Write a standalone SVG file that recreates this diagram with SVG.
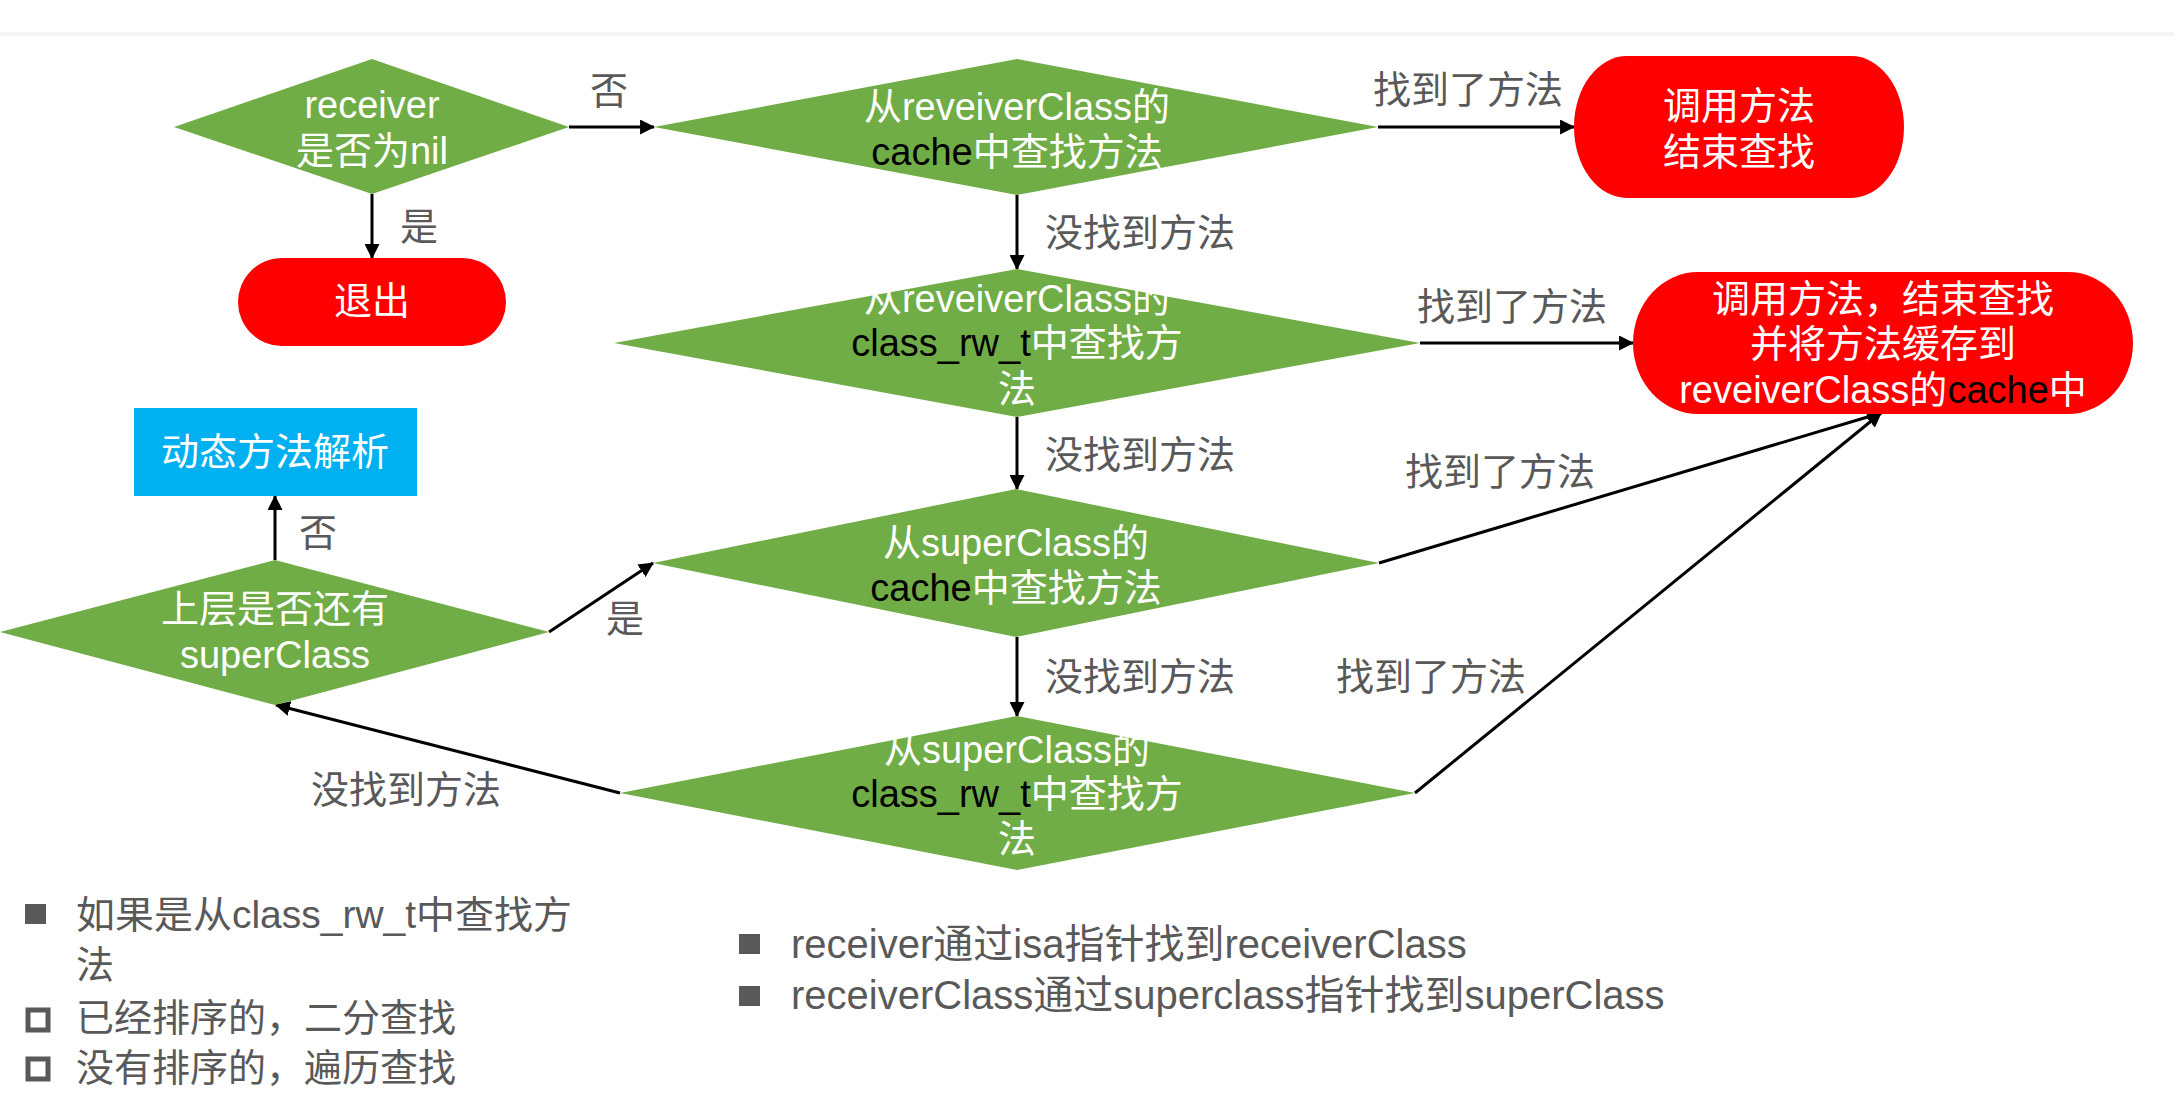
<svg xmlns="http://www.w3.org/2000/svg" width="2174" height="1096" viewBox="0 0 2174 1096">
<style>
.bg{fill:#ffffff}
.d{fill:#70AD47}
.r{fill:#FF0000}
.b{fill:#00B0F0}
.t{font-family:"Liberation Sans","Noto Sans CJK SC",sans-serif;font-size:38px;fill:#ffffff;text-anchor:middle}
.k{fill:#000000}
.l{font-family:"Liberation Sans","Noto Sans CJK SC",sans-serif;font-size:38px;fill:#595959;text-anchor:middle}
.n{font-family:"Liberation Sans","Noto Sans CJK SC",sans-serif;font-size:38px;fill:#595959}
.n2{font-family:"Liberation Sans","Noto Sans CJK SC",sans-serif;font-size:40px;fill:#595959}
.c{stroke:#000000;stroke-width:3;fill:none;marker-end:url(#a)}
</style>
<defs>
<marker id="a" viewBox="0 0 14 14" markerWidth="15" markerHeight="15" refX="13" refY="7" orient="auto" markerUnits="userSpaceOnUse">
<path d="M0,0 L14,7 L0,14 z" fill="#000000"/>
</marker>
</defs>
<rect class="bg" x="0" y="0" width="2174" height="1096"/>
<rect x="0" y="32" width="2174" height="4" fill="#f4f4f4"/>

<g id="connectors">
<line class="c" x1="569" y1="127" x2="654" y2="127"/>
<line class="c" x1="372" y1="194" x2="372" y2="258"/>
<line class="c" x1="1378" y1="127" x2="1574" y2="127"/>
<line class="c" x1="1017" y1="195" x2="1017" y2="269"/>
<line class="c" x1="1420" y1="343" x2="1633" y2="343"/>
<line class="c" x1="1017" y1="417" x2="1017" y2="489"/>
<line class="c" x1="1379" y1="563" x2="1881" y2="413"/>
<line class="c" x1="1017" y1="637" x2="1017" y2="716"/>
<line class="c" x1="1415" y1="793" x2="1881" y2="413"/>
<line class="c" x1="620" y1="793" x2="276" y2="705"/>
<line class="c" x1="549" y1="632" x2="653" y2="563"/>
<line class="c" x1="275" y1="560" x2="275" y2="496"/>
<text class="l" x="609" y="104">否</text>
<text class="l" x="419" y="240">是</text>
<text class="l" x="1468" y="103">找到了方法</text>
<text class="l" x="1140" y="246">没找到方法</text>
<text class="l" x="1512" y="320">找到了方法</text>
<text class="l" x="1140" y="468">没找到方法</text>
<text class="l" x="1500" y="485">找到了方法</text>
<text class="l" x="1140" y="690">没找到方法</text>
<text class="l" x="1431" y="690">找到了方法</text>
<text class="l" x="318" y="546">否</text>
<text class="l" x="625" y="632">是</text>
<text class="l" x="406" y="803">没找到方法</text>
</g>

<g id="receiver-nil">
<polygon class="d" points="372,59 569,127 372,194 174,127"/>
<text class="t" x="372" y="118">receiver</text>
<text class="t" x="372" y="164">是否为nil</text>
</g>

<g id="exit">
<rect class="r" x="238" y="258" width="268" height="88" rx="44" ry="44"/>
<text class="t" x="372" y="314">退出</text>
</g>

<g id="receiver-cache">
<polygon class="d" points="1017,59 1378,127 1017,195 654,127"/>
<text class="t" x="1017" y="120">从reveiverClass的</text>
<text class="t" x="1017" y="165"><tspan class="k">cache</tspan>中查找方法</text>
</g>

<g id="call-end">
<rect class="r" x="1574" y="56" width="330" height="142" rx="53" ry="71"/>
<text class="t" x="1739" y="119">调用方法</text>
<text class="t" x="1739" y="165">结束查找</text>
</g>

<g id="receiver-rw">
<polygon class="d" points="1017,269 1420,343 1017,417 614,343"/>
<text class="t" x="1017" y="312">从reveiverClass的</text>
<text class="t" x="1017" y="356"><tspan class="k">class_rw_t</tspan>中查找方</text>
<text class="t" x="1017" y="402">法</text>
</g>

<g id="call-cache">
<rect class="r" x="1633" y="272" width="500" height="142" rx="65" ry="71"/>
<text class="t" x="1883" y="312">调用方法，结束查找</text>
<text class="t" x="1883" y="357">并将方法缓存到</text>
<text class="t" x="1883" y="403">reveiverClass的<tspan class="k">cache</tspan>中</text>
</g>

<g id="super-cache">
<polygon class="d" points="1016,489 1379,563 1016,637 653,563"/>
<text class="t" x="1016" y="556">从superClass的</text>
<text class="t" x="1016" y="601"><tspan class="k">cache</tspan>中查找方法</text>
</g>

<g id="super-rw">
<polygon class="d" points="1017,716 1415,793 1017,870 620,793"/>
<text class="t" x="1017" y="763">从superClass的</text>
<text class="t" x="1017" y="807"><tspan class="k">class_rw_t</tspan>中查找方</text>
<text class="t" x="1017" y="852">法</text>
</g>

<g id="has-super">
<polygon class="d" points="275,560 549,632 275,705 0,632"/>
<text class="t" x="275" y="622">上层是否还有</text>
<text class="t" x="275" y="668">superClass</text>
</g>

<g id="dynamic">
<rect class="b" x="134" y="408" width="283" height="88"/>
<text class="t" x="275" y="465">动态方法解析</text>
</g>

<g id="notes-left">
<rect x="25" y="904" width="21" height="20" fill="#595959"/>
<text class="n" x="76" y="928" textLength="496" lengthAdjust="spacingAndGlyphs">如果是从class_rw_t中查找方</text>
<text class="n" x="76" y="978">法</text>
<rect x="28" y="1010" width="20" height="20" fill="none" stroke="#595959" stroke-width="5"/>
<text class="n" x="76" y="1031">已经排序的，二分查找</text>
<rect x="28" y="1059" width="20" height="20" fill="none" stroke="#595959" stroke-width="5"/>
<text class="n" x="76" y="1081">没有排序的，遍历查找</text>
</g>

<g id="notes-right">
<rect x="739" y="934" width="21" height="20" fill="#595959"/>
<text class="n2" x="791" y="958">receiver通过isa指针找到receiverClass</text>
<rect x="739" y="986" width="21" height="20" fill="#595959"/>
<text class="n2" x="791" y="1009">receiverClass通过superclass指针找到superClass</text>
</g>
</svg>
